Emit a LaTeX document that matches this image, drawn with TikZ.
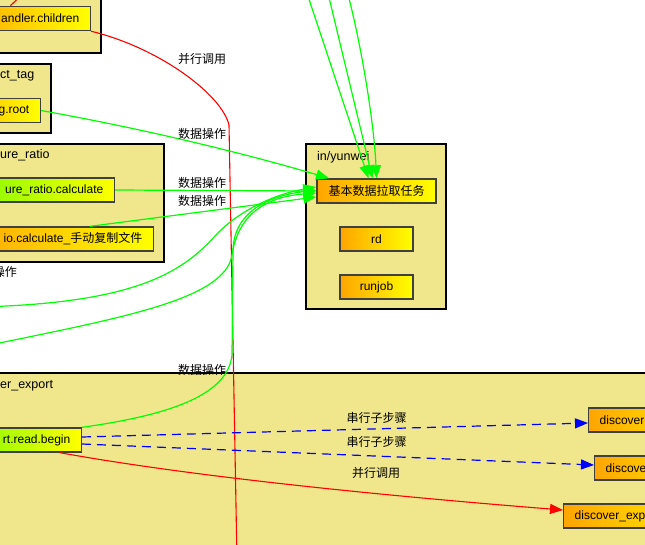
\documentclass[tikz,border=0pt]{standalone}
\usepackage{fontspec}
\setmainfont{Liberation Sans}
\newfontfamily\cjk{Noto Sans CJK SC}
\usetikzlibrary{arrows.meta}

\definecolor{khaki}{HTML}{F0E68C}
\definecolor{taskorange}{HTML}{FFA500}
\definecolor{lawn}{HTML}{7CFC00}
\definecolor{dataline}{HTML}{00FF00}
\newcommand{\picfont}{\fontsize{12.5}{14}\selectfont}
\newcommand{\taskfont}{\fontsize{12}{14}\selectfont}
\newcommand{\cjkfont}{\fontsize{12}{14}\selectfont\cjk}

\tikzset{
	grp/.style={draw=black, line width=1.2pt, fill=khaki},
	grplabel/.style={anchor=west, inner sep=0pt},
	task/.style={draw=black!75, line width=1.4pt, minimum height=24pt, inner xsep=11pt, inner ysep=0pt, font=\taskfont, left color=taskorange, right color=yellow},
	gtask/.style={task, left color=lawn},
	cutl/.style={anchor=east, text width=#1, align=right},
	cutr/.style={anchor=west, text width=#1, align=left},
	tip/.style={-{Triangle[length=13pt, width=10pt]}},
	dataop/.style={draw=dataline, line width=1.2pt, tip},
	parcall/.style={draw=red, line width=1.1pt},
	serstep/.style={draw=blue, line width=1.2pt, dash pattern=on 9pt off 6pt, tip},
	lbl/.style={inner sep=0pt, font=\cjkfont}
}

\begin{document}
\begin{tikzpicture}[x=1pt, y=-1pt, font=\picfont]
		\useasboundingbox (0,0) rectangle (645,544);
		\clip (0,0) rectangle (645,544);
		\draw [grp] (-60,-20) rectangle (101,53);
		\draw [grp] (-60,64) rectangle (51,133);
		\draw [grp] (-60,144) rectangle (164,262);
		\draw [grp] (306,144) rectangle (446,309);
		\draw [grp] (-60,373) rectangle (700,600);
		\node [grplabel] (tagname) at (0,76) {ct\_tag};
		\node [grplabel] (rationame) at (0,155.5) {ure\_ratio};
		\node [grplabel] (yunweiname) at (317,157) {in/yunwei};
		\node [grplabel] (exportname) at (0,385.5) {er\_export};
		\node [task, cutl=110pt] (children) at (91,18.5) {andler.children};
		\node [task, cutl=80pt] (groot) at (41,110.5) {g.root};
		\node [gtask, cutl=130pt] (ucalc) at (115,190) {ure\_ratio.calculate};
		\node [task, cutl=170pt] (iocalc) at (154,239) {io.calculate\_{\cjk 手动复制文件}};
		\node [task, minimum width=119pt, font=\cjkfont] (base) at (376.5,191) {基本数据拉取任务};
		\node [task, minimum width=73pt] (rd) at (376.5,239) {rd};
		\node [task, minimum width=73pt] (runjob) at (376.5,287) {runjob};
		\node [gtask, cutl=100pt] (rtbegin) at (82,440) {rt.read.begin};
		\node [task, cutr=120pt] (disc1) at (588,420) {discover};
		\node [task, cutr=120pt] (disc2) at (594,468) {discove};
		\node [task, cutr=150pt] (dexp) at (563,516) {discover\_exp};
		\coordinate (redtop) at (29,-12);
		\coordinate (redout) at (237,560);
		\coordinate (topA) at (296,-40);
		\coordinate (topB) at (320,-40);
		\coordinate (topC) at (338,-40);
		\coordinate (inA) at (-20,307);
		\coordinate (inB) at (-20,347);
		\draw [parcall] (redtop) -- ([xshift=-14pt]children.north);
		\draw [parcall] (children.south east) .. controls (160,48) and (222,95) .. (229,125) -- (redout);
		\draw [dataop] (groot.east) .. controls (150,130) and (250,155) .. (base.165);
		\draw [dataop] (ucalc.east) -- (base.west);
		\draw [dataop] ([xshift=-64pt]iocalc.north east) -- ([yshift=-6pt]base.west);
		\draw [dataop] (topA) -- ([xshift=-8pt]base.north);
		\draw [dataop] (topB) -- ([xshift=-4pt]base.north);
		\draw [dataop] (topC) .. controls (358,20) and (374,120) .. (base.north);
		\draw [dataop] (inA) .. controls (130,303) and (180,275) .. (215,236) .. controls (235,214) and (270,195) .. ([yshift=4pt]base.west);
		\draw [dataop] (inB) .. controls (120,318) and (225,300) .. (232,255) .. controls (238,215) and (265,197) .. ([yshift=-2pt]base.west);
		\draw [dataop] (rtbegin.north east) .. controls (170,415) and (228,395) .. (232,355) -- (233,250) .. controls (234,212) and (268,196) .. ([yshift=1pt]base.west);
		\draw [serstep] ([yshift=3pt]rtbegin.east) -- ([yshift=-3pt]disc1.west);
		\draw [serstep] ([yshift=-4pt]rtbegin.east) -- ([yshift=3pt]disc2.west);
		\draw [parcall, tip] ([xshift=-22pt]rtbegin.south east) .. controls (200,478) and (400,497) .. ([yshift=6pt]dexp.west);
		\node [lbl] (callA) at (202,59) {并行调用};
		\node [lbl] (dataA) at (202,134) {数据操作};
		\node [lbl] (dataB) at (202,183) {数据操作};
		\node [lbl] (dataC) at (202,201) {数据操作};
		\node [lbl] (dataD) at (5,272) {操作};
		\node [lbl] (dataE) at (202,370) {数据操作};
		\node [lbl] (stepA) at (376.5,417.5) {串行子步骤};
		\node [lbl] (stepB) at (376.5,441.5) {串行子步骤};
		\node [lbl] (callB) at (376,473) {并行调用};
	\end{tikzpicture}
\end{document}
